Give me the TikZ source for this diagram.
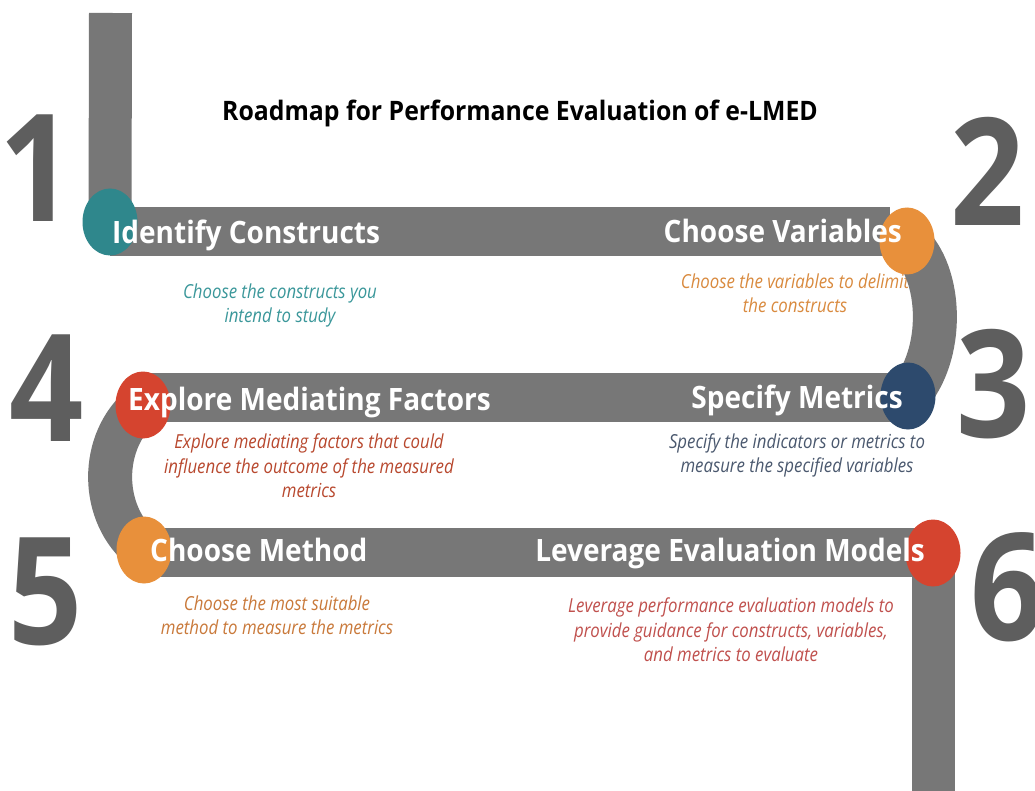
\documentclass[tikz,border=0pt]{standalone}
\usepackage{fontspec}
\setmainfont{Open Sans}
\usetikzlibrary{shapes.geometric,calc}

\definecolor{trackgray}{HTML}{777777}
\definecolor{numgray}{HTML}{5E5E5E}
\definecolor{tealdot}{HTML}{2F878C}
\definecolor{orangedot}{HTML}{E8903B}
\definecolor{navydot}{HTML}{2D4A6D}
\definecolor{reddot}{HTML}{D5442F}
\definecolor{tealtext}{HTML}{3A979A}
\definecolor{orangetext}{HTML}{D98A3E}
\definecolor{navytext}{HTML}{4A586E}
\definecolor{rusttext}{HTML}{B8482E}
\definecolor{browntext}{HTML}{C9793A}
\definecolor{redtext}{HTML}{C0504D}

\pgfdeclarelayer{paper}
\pgfdeclarelayer{notes}
\pgfdeclarelayer{track}
\pgfsetlayers{paper,notes,track,main}

\begin{document}
\begin{tikzpicture}[x=1pt,y=-1pt,
  htrack/.style={draw=trackgray, line width=49pt},
  vtrack/.style={draw=trackgray, line width=43pt},
  roadbend/.style={draw=trackgray, line width=44pt},
  stop/.style={ellipse, minimum width=55pt, minimum height=67pt, inner sep=0pt},
  stage/.style={font=\bfseries\fontsize{28}{32}\selectfont, text=white, inner sep=0pt, yscale=1.1},
  note/.style={font=\itshape\fontsize{16.8}{21.3}\selectfont, align=center, inner sep=0pt, yscale=1.15},
  bignum/.style={font=\bfseries\fontsize{130}{130}\selectfont, text=numgray, inner sep=0pt, yscale=1.15},
  heading/.style={font=\bfseries\fontsize{24.8}{28}\selectfont, text=black, inner sep=0pt, yscale=1.08}]

\useasboundingbox (0,0) rectangle (1035,791);
\begin{pgfonlayer}{paper}
  \fill[white] (0,0) rectangle (1035,791);
\end{pgfonlayer}

% title
\node[heading, anchor=base] (title) at (520,121) {Roadmap for Performance Evaluation of e-LMED};

% stops along the road
\node[stop, fill=tealdot]   (c1) at (110,222) {};
\node[stop, fill=orangedot] (c2) at (907,241) {};
\node[stop, fill=navydot]   (c3) at (908,396) {};
\node[stop, fill=reddot]    (c4) at (143,405) {};
\node[stop, fill=orangedot] (c5) at (144,550) {};
\node[stop, fill=reddot]    (c6) at (933,553) {};

% road rows and free ends
\coordinate (top)    at (110.5,13);
\coordinate (bottom) at (931.5,795);
\coordinate (r1) at (0,231.5);
\coordinate (r2) at (0,397);
\coordinate (r3) at (0,552);

\begin{pgfonlayer}{track}
  \draw[vtrack] (top) -- (c1.center);
  \draw[htrack] (c1.center |- r1) -- ($(c2.center |- r1)+(-17,0)$);
  \draw[roadbend] (c2.center) .. controls +(36,32) and +(37,-41) .. (c3.center);
  \draw[htrack] (c3.center |- r2) -- (c4.center |- r2);
  \draw[roadbend] (c4.center) .. controls +(-44,35) and +(-45,-35) .. (c5.center);
  \draw[htrack] (c5.center |- r3) -- (c6.center |- r3);
  \draw[vtrack] (c6.center) -- (c6.center |- bottom);
\end{pgfonlayer}

% stage names
\node[stage, anchor=base west] (s1) at (112,244) {Identify Constructs};
\node[stage, anchor=base east] (s2) at (902,243) {Choose Variables};
\node[stage, anchor=base east] (s3) at (903,408) {Specify Metrics};
\node[stage, anchor=base west] (s4) at (128,410) {Explore Mediating Factors};
\node[stage, anchor=base west] (s5) at (150,561) {Choose Method};
\node[stage, anchor=base east] (s6) at (925,561) {Leverage Evaluation Models};

% descriptions
\begin{pgfonlayer}{notes}
  \node[note, text=tealtext]   (d1) at (280,305.5) {Choose the constructs you\\intend to study};
  \node[note, text=orangetext] (d2) at (795,293.5) {Choose the variables to delimit\\the constructs};
  \node[note, text=navytext]   (d3) at (797,455.5) {Specify the indicators or metrics to\\measure the specified variables};
  \node[note, text=rusttext]   (d4) at (309,466) {Explore mediating factors that could\\influence the outcome of the measured\\metrics};
  \node[note, text=browntext]  (d5) at (277,615.5) {Choose the most suitable\\method to measure the metrics};
  \node[note, text=redtext]    (d6) at (731,630) {Leverage performance evaluation models to\\provide guidance for constructs, variables,\\and metrics to evaluate};
\end{pgfonlayer}

% step numbers
\node[bignum] (n1) at (37,168) {1};
\node[bignum] (n2) at (988,171) {2};
\node[bignum] (n3) at (994,384) {3};
\node[bignum] (n4) at (47,388) {4};
\node[bignum] (n5) at (46,592) {5};
\node[bignum] (n6) at (1008,587) {6};
\end{tikzpicture}
\end{document}
